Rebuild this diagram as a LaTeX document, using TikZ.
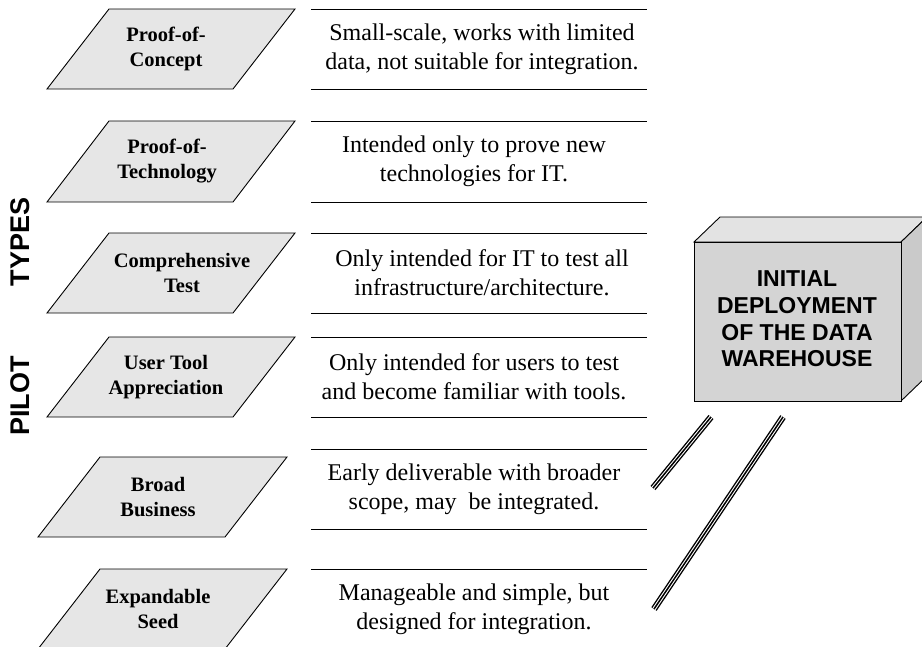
\documentclass[tikz,border=0pt]{standalone}
\usepackage{fontspec}
\setmainfont{Liberation Serif}
\setsansfont{Liberation Sans}
\usetikzlibrary{positioning}
\definecolor{pgray}{HTML}{E6E6E6}
\definecolor{frontgray}{HTML}{D4D4D4}
\definecolor{topgray}{HTML}{E3E3E3}
\definecolor{sidegray}{HTML}{CACACA}

\tikzset{
  pilotbox/.style={draw, line width=0.9pt, fill=pgray, line join=miter},
  pilotname/.style={font=\fontsize{20.5}{25}\selectfont\bfseries, align=center, inner sep=0pt},
  pilotdesc/.style={font=\fontsize{24}{29}\selectfont, align=center, inner sep=0pt},
  ruleline/.style={line width=0.9pt},
  sidetitle/.style={rotate=90, font=\fontsize{27}{27}\selectfont\sffamily\bfseries, inner sep=0pt},
  tripleline/.style={line width=6.4pt, black,
    postaction={draw, white, line width=3.6pt},
    postaction={draw, black, line width=1.5pt}}
}

\begin{document}
\begin{tikzpicture}[x=1pt, y=-1pt]
    \useasboundingbox (0,0) rectangle (922,646);

    % Side titles
    \node[sidetitle] (types) at (20,242) {TYPES};
    \node[sidetitle] (pilot) at (20,396) {PILOT};

    % Row 1: Proof-of-Concept
    \draw[pilotbox] (109,9) -- (295,9) -- (233,89) -- (47,89) -- cycle;
    \node[pilotname] (poc) at (166,49) {Proof-of-\\Concept};
    \draw[ruleline] (311,9) -- (647,9);
    \draw[ruleline] (311,89) -- (647,89);
    \node[pilotdesc] (pocdesc) at (482,49) {Small-scale, works with limited\\data, not suitable for integration.};

    % Row 2: Proof-of-Technology
    \draw[pilotbox] (109,121) -- (295,121) -- (233,202) -- (47,202) -- cycle;
    \node[pilotname] (pot) at (167,161) {Proof-of-\\Technology};
    \draw[ruleline] (311,121) -- (647,121);
    \draw[ruleline] (311,202) -- (647,202);
    \node[pilotdesc] (potdesc) at (474,161) {Intended only to prove new\\technologies for IT.};

    % Row 3: Comprehensive Test
    \draw[pilotbox] (109,233) -- (295,233) -- (233,313) -- (47,313) -- cycle;
    \node[pilotname] (ctest) at (182,273) {Comprehensive\\Test};
    \draw[ruleline] (311,233) -- (647,233);
    \draw[ruleline] (311,313) -- (647,313);
    \node[pilotdesc] (ctestdesc) at (482,273) {Only intended for IT to test all\\infrastructure/architecture.};

    % Row 4: User Tool Appreciation
    \draw[pilotbox] (109,337) -- (295,337) -- (233,417) -- (47,417) -- cycle;
    \node[pilotname] (uta) at (166,377) {User Tool\\Appreciation};
    \draw[ruleline] (311,337) -- (647,337);
    \draw[ruleline] (311,417) -- (647,417);
    \node[pilotdesc] (utadesc) at (474,377) {Only intended for users to test\\and become familiar with tools.};

    % Row 5: Broad Business
    \draw[pilotbox] (100,457) -- (287,457) -- (225,537) -- (38,537) -- cycle;
    \node[pilotname] (bb) at (158,497) {Broad\\Business};
    \draw[ruleline] (311,449) -- (647,449);
    \draw[ruleline] (311,529) -- (647,529);
    \node[pilotdesc] (bbdesc) at (474,489) {Early deliverable with broader\\scope, may\ \ be integrated.};

    % Row 6: Expandable Seed (runs off the bottom)
    \draw[pilotbox] (100,569) -- (287,569) -- (225,649) -- (38,649) -- cycle;
    \node[pilotname] (es) at (158,609) {Expandable\\Seed};
    \draw[ruleline] (311,569) -- (647,569);
    \draw[ruleline] (311,649) -- (647,649);
    \node[pilotdesc] (esdesc) at (474,609) {Manageable and simple, but\\designed for integration.};

    % Cube: initial deployment
    \draw[line width=0.9pt, fill=topgray] (694,242) -- (720,217) -- (927,217) -- (901,242) -- cycle;
    \draw[line width=0.9pt, fill=sidegray] (901,242) -- (927,217) -- (927,376) -- (901,401) -- cycle;
    \draw[line width=0.9pt, fill=frontgray] (694,242) rectangle (901,401);
    \node[font=\fontsize{23}{26.7}\selectfont\sffamily\bfseries, align=center] (dw) at (797,319)
        {INITIAL\\DEPLOYMENT\\OF THE DATA\\WAREHOUSE};

    % Triple lines below the cube
    \coordinate (la1) at (653,488);
    \coordinate (la2) at (711,417);
    \coordinate (lb1) at (654,609);
    \coordinate (lb2) at (783,417);
    \draw[tripleline] (la1) -- (la2);
    \draw[tripleline] (lb1) -- (lb2);
\end{tikzpicture}
\end{document}
